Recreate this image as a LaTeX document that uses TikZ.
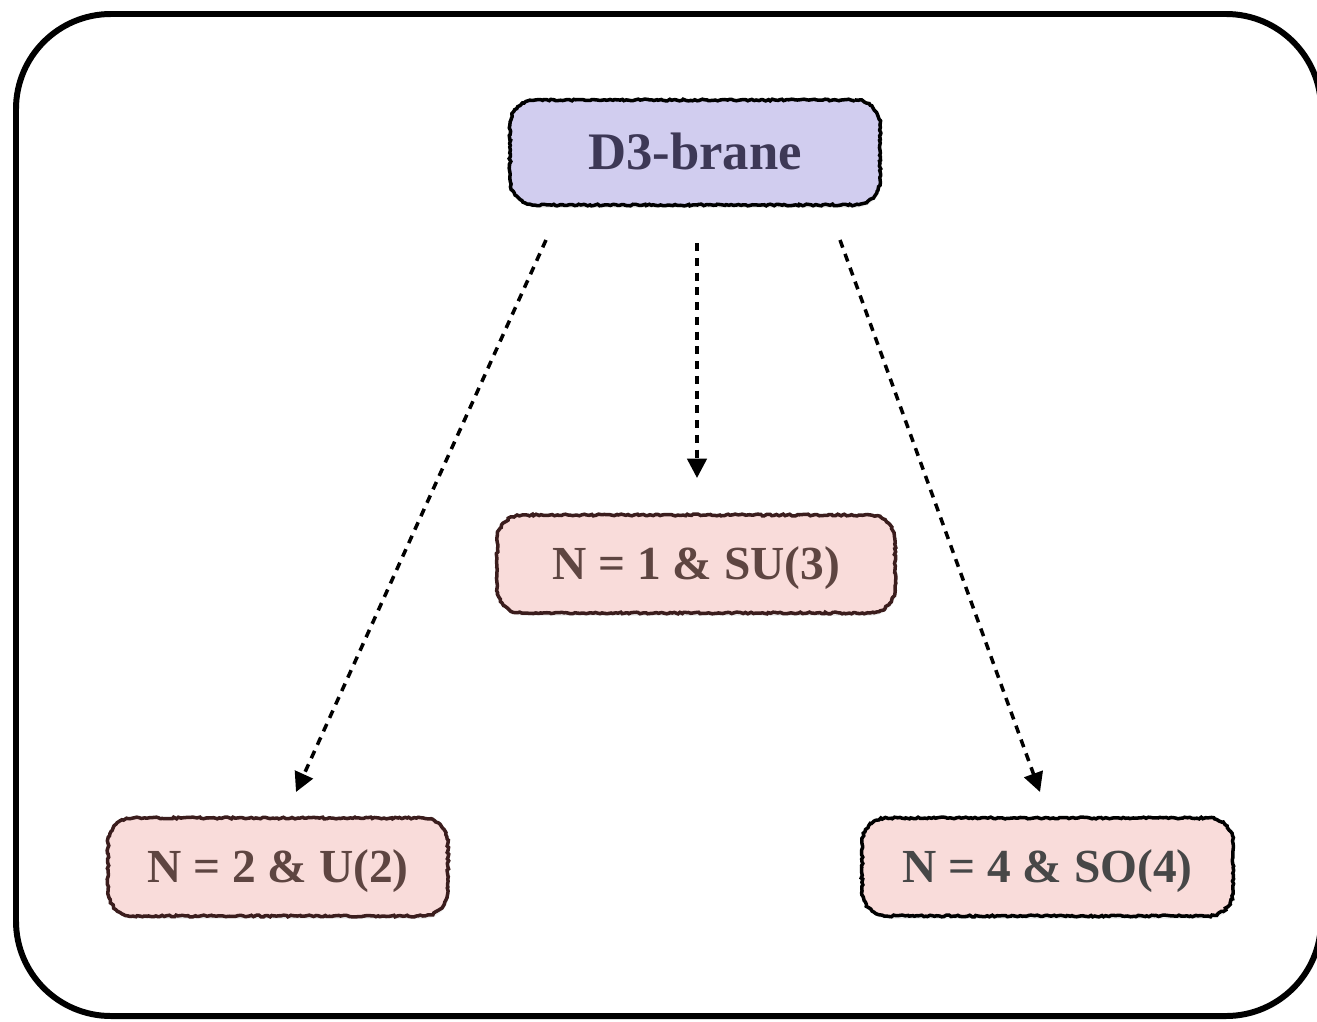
\documentclass[tikz,border=0pt]{standalone}
\usepackage{fontspec}
\setmainfont{Liberation Serif}
\usetikzlibrary{arrows.meta,decorations.pathmorphing,shadows}

\definecolor{braneFill}{HTML}{D1CDEF}
\definecolor{braneText}{HTML}{3D3856}
\definecolor{groupFill}{HTML}{F9DCDA}
\definecolor{groupText}{HTML}{5E4541}
\definecolor{groupEdge}{HTML}{3B1D1D}
\definecolor{greyText}{HTML}{474747}

\tikzset{
  roughbox/.style={
    rounded corners=0.5cm, fill=#1, inner sep=0pt, text depth=0pt,
    drop shadow={opacity=0.12, shadow xshift=0.6pt, shadow yshift=-1.6pt},
  },
  roughedge/.style={
    postaction={draw=#1, line width=2pt, sharp corners, decorate,
      decoration={random steps, segment length=1.3pt, amplitude=0.5pt}}
  },
  topnode/.style={roughbox=braneFill, roughedge=black, text=braneText,
    minimum width=7.4cm, minimum height=2.1cm, text height=19.8pt,
    font=\fontsize{30}{34}\selectfont\bfseries},
  groupnode/.style={roughbox=groupFill, text=groupText,
    minimum height=1.96cm, text height=17.8pt,
    font=\fontsize{27}{31}\selectfont\bfseries},
  flow/.style={line width=2pt, dash pattern=on 4.6pt off 3.8pt,
    -{Triangle[length=11pt,width=11pt]}},
}

\begin{document}
\begin{tikzpicture}[x=0.02cm, y=-0.02cm]
  \useasboundingbox (0,0) rectangle (1317,1021);
  \clip (0,0) rectangle (1317,1021);

  % outer frame
  \draw[line width=3.4pt, rounded corners=1.9cm] (16,14) rectangle (1321,1016);

  % boxes
  \node[topnode] (brane) at (695,152.5) {D3-brane};
  \node[groupnode, roughedge=groupEdge, minimum width=7.96cm] (n1) at (696,564) {N = 1 \& SU(3)};
  \node[groupnode, roughedge=groupEdge, minimum width=6.8cm] (n2) at (278,867) {N = 2 \& U(2)};
  \node[groupnode, roughedge=black, text=greyText, minimum width=7.42cm] (n4) at (1047.5,867) {N = 4 \& SO(4)};

  % arrow end points
  \coordinate (lft0) at (546,240);
  \coordinate (lft1) at (296,792);
  \coordinate (mid0) at (697,243);
  \coordinate (mid1) at (697,478);
  \coordinate (rgt0) at (840,240);
  \coordinate (rgt1) at (1040,792);

  \draw[flow] (lft0) -- (lft1);
  \draw[flow] (mid0) -- (mid1);
  \draw[flow] (rgt0) -- (rgt1);
\end{tikzpicture}
\end{document}
